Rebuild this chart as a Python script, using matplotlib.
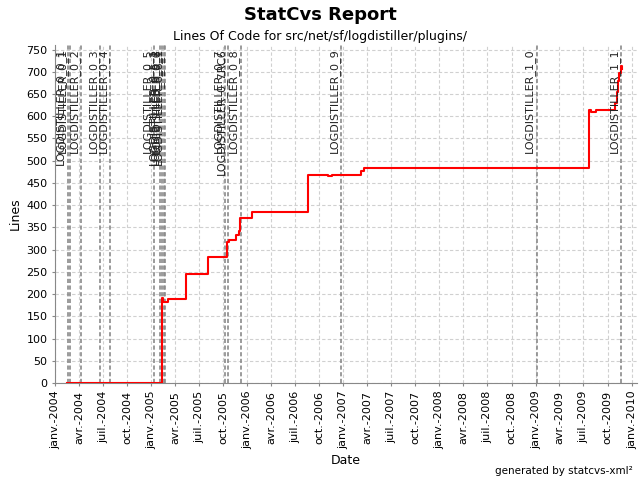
import datetime as dt
import matplotlib
matplotlib.use('Agg')
from matplotlib import pyplot as plt
from matplotlib import dates as mdates

# lines of code over time (step changes)
loc_dates = ['2004-02-14', '2005-02-12', '2005-02-14', '2005-03-07', '2005-05-13',
             '2005-08-03', '2005-10-14', '2005-10-23', '2005-11-17', '2005-11-30',
             '2005-12-05', '2006-01-17', '2006-08-20', '2006-11-03', '2006-11-18',
             '2007-03-10', '2007-03-21', '2009-07-24', '2009-07-30', '2009-08-18',
             '2009-10-30', '2009-11-05', '2009-11-10', '2009-11-15', '2009-11-21',
             '2009-11-24']
loc_values = [0, 192, 183, 190, 245,
              283, 317, 322, 332, 343,
              371, 384, 468, 465, 468,
              476, 484, 613, 610, 613,
              630, 655, 680, 697, 712,
              706]

tag_names = ['LOGDISTILLER_0_0_1', 'LOGDISTILLER_0_1', 'LOGDISTILLER_0_2',
             'LOGDISTILLER_0_3', 'LOGDISTILLER_0_4', 'LOGDISTILLER_0_5',
             'LOGDISTILLER_0_5_1', 'LOGDISTILLER_0_5_2', 'LOGDISTILLER_0_6',
             'LOGDISTILLER_0_6_1', 'LOGDISTILLER_0_7', 'LOGDISTILLER_0_7RC6',
             'LOGDISTILLER_0_8', 'LOGDISTILLER_0_9', 'LOGDISTILLER_1_0',
             'LOGDISTILLER_1_1']
tag_dates = ['2004-02-18', '2004-02-25', '2004-04-10', '2004-06-20', '2004-07-28',
             '2005-01-13', '2005-02-03', '2005-02-10', '2005-02-17', '2005-02-22',
             '2005-10-08', '2005-10-21', '2005-12-06', '2006-12-22', '2009-01-04',
             '2009-11-22']

month_names = {1: 'janv.', 4: 'avr.', 7: 'juil.', 10: 'oct.'}


def to_date(s):
    return dt.datetime.strptime(s, '%Y-%m-%d')


def main():
    plt.rcParams['font.family'] = 'DejaVu Sans'
    fig = plt.figure(figsize=(6.4, 4.8), dpi=100)
    ax = fig.add_axes([0.086, 0.202, 0.909, 0.704])

    days = [to_date(d) for d in loc_dates]
    ax.plot(days, loc_values, drawstyle='steps-post', color='red', lw=1.5, zorder=3)

    for name, d in zip(tag_names, tag_dates):
        td = to_date(d)
        ax.axvline(td, color='#8a8a8a', lw=1.2, linestyle=(0, (2.5, 1.5)), zorder=2)
        ax.annotate(name, xy=(td, 1), xycoords=('data', 'axes fraction'),
                    xytext=(-1, -2), textcoords='offset points', rotation=90,
                    ha='right', va='top', fontsize=8, color='#222222')

    ticks = []
    labels = []
    for year in range(2004, 2011):
        for month in (1, 4, 7, 10):
            if year == 2010 and month > 1:
                break
            ticks.append(dt.datetime(year, month, 1))
            labels.append('%s-%d' % (month_names[month], year))
    ax.set_xticks(ticks)
    ax.set_xticklabels(labels, rotation=90, fontsize=8)
    ax.set_xlim(dt.datetime(2004, 1, 1), dt.datetime(2010, 1, 20))

    ax.set_ylim(0, 760)
    ax.set_yticks(range(0, 751, 50))
    ax.tick_params(axis='y', labelsize=8)
    ax.tick_params(length=2, color='#888888')

    ax.grid(True, color='#d0d0d0', linestyle=(0, (3, 2)), lw=0.8)
    ax.set_axisbelow(True)
    for side in ('top', 'right'):
        ax.spines[side].set_visible(False)
    for side in ('left', 'bottom'):
        ax.spines[side].set_color('#888888')

    ax.set_ylabel('Lines', fontsize=9, labelpad=3)
    ax.set_xlabel('Date', fontsize=9, labelpad=3)

    fig.text(0.5, 0.968, 'StatCvs Report', ha='center', va='center',
             fontsize=13, fontweight='bold')
    fig.text(0.5, 0.923, 'Lines Of Code for src/net/sf/logdistiller/plugins/',
             ha='center', va='center', fontsize=9)
    fig.text(0.988, 0.018, 'generated by statcvs-xml\u00b2', ha='right',
             va='center', fontsize=7.5)

    fig.savefig('out.png', dpi=100)


if __name__ == "__main__":
    main()
